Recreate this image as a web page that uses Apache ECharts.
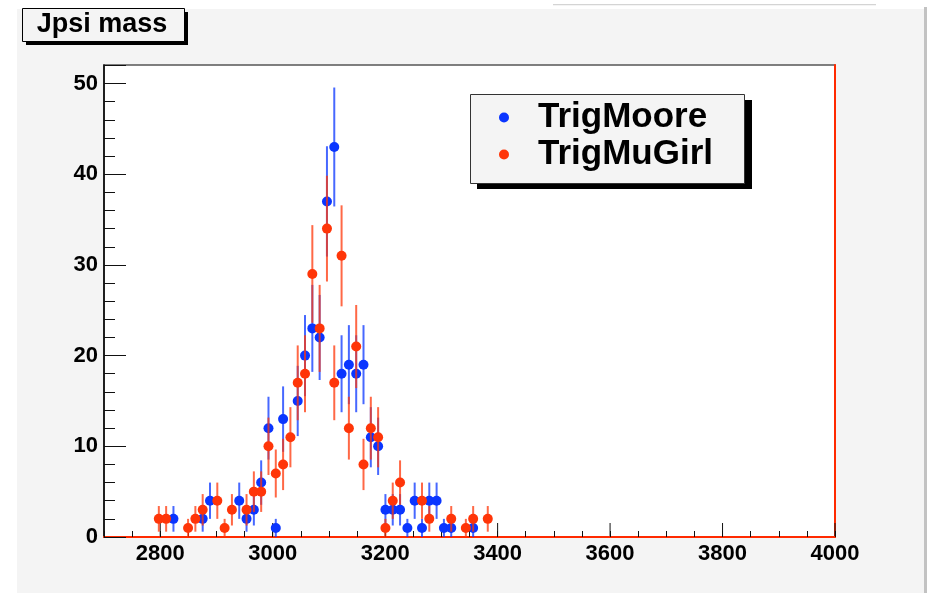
<!DOCTYPE html>
<html>
<head>
<meta charset="utf-8">
<script src="https://cdn.jsdelivr.net/npm/echarts@6/dist/echarts.min.js"></script>
<style>
  html, body { margin: 0; padding: 0; background: #ffffff; }
  #chart { width: 930px; height: 593px; }
</style>
</head>
<body>
<div id="chart"></div>
<script>
// ---- Data ----
const chartTitle = 'Jpsi mass';
const seriesNames = ['TrigMoore', 'TrigMuGirl'];
// bin centres (MeV) and counts
const mooreMass  = [2823.5, 2875.5, 2888.5, 2940.5, 2953.5, 2966.5, 2979.5, 2992.5, 3005.5, 3018.5, 3044.5, 3057.5, 3070.5, 3083.5, 3096.5, 3109.5, 3122.5, 3135.5, 3148.5, 3161.5, 3174.5, 3187.5, 3200.5, 3213.5, 3226.5, 3239.5, 3252.5, 3265.5, 3278.5, 3291.5, 3304.5, 3317.5, 3356.5];
const mooreCount = [2, 2, 4, 4, 2, 3, 6, 12, 1, 13, 15, 20, 23, 22, 37, 43, 18, 19, 18, 19, 11, 10, 3, 3, 3, 1, 4, 1, 4, 4, 1, 1, 1];
const girlMass   = [2797.5, 2810.5, 2849.5, 2862.5, 2875.5, 2901.5, 2914.5, 2927.5, 2953.5, 2966.5, 2979.5, 2992.5, 3005.5, 3018.5, 3031.5, 3044.5, 3057.5, 3070.5, 3083.5, 3096.5, 3109.5, 3122.5, 3135.5, 3148.5, 3161.5, 3174.5, 3187.5, 3200.5, 3213.5, 3226.5, 3265.5, 3278.5, 3317.5, 3343.5, 3356.5, 3382.5];
const girlCount  = [2, 2, 1, 2, 3, 4, 1, 3, 3, 5, 5, 10, 7, 8, 11, 17, 18, 29, 23, 34, 17, 31, 12, 21, 8, 12, 11, 1, 4, 6, 4, 2, 2, 1, 2, 2];
const xMajorTicks = [2800, 3000, 3200, 3400, 3600, 3800, 4000];
const xMin = 2700, xMax = 4000;
const yMin = 0, yMax = 52.04;

// ---- Styles ----
const BLUE = '#0a35ff';
const RED = '#ff3508';
const FONT = '"Liberation Sans", Arial, Helvetica, sans-serif';

function points(mass, count) {
  return mass.map((m, i) => [m, count[i]]);
}
function errPoints(mass, count) {
  // Poisson errors sqrt(N), as drawn by the histogram
  return mass.map((m, i) => [m, count[i], Math.sqrt(count[i])]);
}
function errRenderer(color) {
  return function (params, api) {
    const x = api.value(0), y = api.value(1), e = api.value(2);
    const top = api.coord([x, y + e]);
    const bot = api.coord([x, Math.max(0, y - e)]);
    return {
      type: 'line',
      shape: { x1: top[0], y1: top[1], x2: bot[0], y2: bot[1] },
      style: { stroke: color, lineWidth: 2, opacity: 0.75 }
    };
  };
}

const chart = echarts.init(document.getElementById('chart'), null, { renderer: 'canvas' });

const option = {
  backgroundColor: '#ffffff',
  animation: false,
  textStyle: { fontFamily: FONT },
  graphic: [
    // gray canvas panel
    { type: 'rect', z: -10, silent: true, shape: { x: 17, y: 9, width: 907, height: 584 }, style: { fill: '#f4f4f4' } },
    { type: 'rect', z: -10, silent: true, shape: { x: 924, y: 7, width: 3, height: 586 }, style: { fill: '#c2c2c2' } },
    { type: 'rect', z: -10, silent: true, shape: { x: 553, y: 4, width: 323, height: 1.2 }, style: { fill: '#d4d4d4' } },
    // title box with shadow
    { type: 'rect', z: 10, silent: true, shape: { x: 26, y: 12, width: 162, height: 33 }, style: { fill: '#000' } },
    { type: 'rect', z: 11, silent: true, shape: { x: 22.5, y: 8.5, width: 162, height: 33 }, style: { fill: '#f4f4f4', stroke: '#000', lineWidth: 1 } },
    { type: 'text', z: 12, silent: true, x: 102, y: 25,
      style: { text: chartTitle, font: 'bold 27px ' + FONT, fill: '#000', align: 'center', verticalAlign: 'middle' } },
    // legend box with shadow
    { type: 'rect', z: 10, silent: true, shape: { x: 477, y: 100, width: 275, height: 89 }, style: { fill: '#000' } },
    { type: 'rect', z: 11, silent: true, shape: { x: 470.5, y: 94.5, width: 274, height: 89 }, style: { fill: '#f4f4f4', stroke: '#333', lineWidth: 1 } }
  ],
  legend: {
    data: seriesNames,
    orient: 'vertical',
    left: 499,
    top: 99,
    z: 20,
    padding: 0,
    itemGap: 0,
    itemWidth: 10,
    itemHeight: 10,
    icon: 'circle',
    selectedMode: false,
    textStyle: { fontFamily: FONT, fontWeight: 'bold', fontSize: 35, color: '#000', lineHeight: 37, padding: [0, 0, 0, 24] }
  },
  grid: {
    left: 104, right: 95, top: 65, bottom: 56,
    show: true, backgroundColor: '#ffffff', borderColor: '#555', borderWidth: 1.5,
    containLabel: false
  },
  xAxis: [{
    type: 'value', min: xMin, max: xMax, interval: 50,
    axisLine: { show: true, onZero: false, lineStyle: { color: '#ff2a00', width: 2 } },
    axisTick: { show: true, inside: true, length: 6, lineStyle: { color: '#111', width: 1 } },
    splitLine: { show: false },
    axisLabel: {
      margin: 6, fontFamily: FONT, fontWeight: 'bold', fontSize: 22, color: '#000',
      formatter: v => (v % 200 === 0 ? String(v) : '')
    }
  }],
  yAxis: [{
    type: 'value', min: yMin, max: yMax, interval: 10, position: 'left',
    axisLine: { show: true, lineStyle: { color: '#000', width: 1.5 } },
    axisTick: { show: true, inside: true, length: 22, lineStyle: { color: '#111', width: 1 } },
    splitLine: { show: false },
    axisLabel: {
      margin: 6, fontFamily: FONT, fontWeight: 'bold', fontSize: 22, color: '#000',
      formatter: v => (v % 10 === 0 ? String(v) : '')
    }
  }, {
    type: 'value', min: yMin, max: yMax, interval: 2, position: 'left',
    axisLine: { show: false },
    axisTick: { show: true, inside: true, length: 11, lineStyle: { color: '#111', width: 1 } },
    splitLine: { show: false },
    axisLabel: { show: false }
  }, {
    type: 'value', min: yMin, max: yMax, position: 'right',
    axisLine: { show: true, lineStyle: { color: '#ff2a00', width: 2 } },
    axisTick: { show: false }, splitLine: { show: false }, axisLabel: { show: false }
  }],
  series: [
    {
      type: 'custom', name: 'xMajorTicks', xAxisIndex: 0, yAxisIndex: 0, z: 3, silent: true,
      data: xMajorTicks.map(v => [v, 0]),
      renderItem: function (params, api) {
        const p = api.coord([api.value(0), 0]);
        return { type: 'line', shape: { x1: p[0], y1: p[1] - 1, x2: p[0], y2: p[1] - 14 }, style: { stroke: '#111', lineWidth: 1 } };
      },
      clip: false
    },
    {
      type: 'custom', name: 'TrigMoore err', xAxisIndex: 0, yAxisIndex: 0, z: 4, silent: true,
      data: errPoints(mooreMass, mooreCount), renderItem: errRenderer(BLUE)
    },
    {
      type: 'scatter', name: seriesNames[0], xAxisIndex: 0, yAxisIndex: 0, z: 5,
      symbol: 'circle', symbolSize: 10, itemStyle: { color: BLUE, opacity: 1 },
      data: points(mooreMass, mooreCount)
    },
    {
      type: 'custom', name: 'TrigMuGirl err', xAxisIndex: 0, yAxisIndex: 0, z: 6, silent: true,
      data: errPoints(girlMass, girlCount), renderItem: errRenderer(RED)
    },
    {
      type: 'scatter', name: seriesNames[1], xAxisIndex: 0, yAxisIndex: 0, z: 7,
      symbol: 'circle', symbolSize: 10, itemStyle: { color: RED, opacity: 1 },
      data: points(girlMass, girlCount)
    }
  ]
};
chart.setOption(option);
</script>
</body>
</html>
